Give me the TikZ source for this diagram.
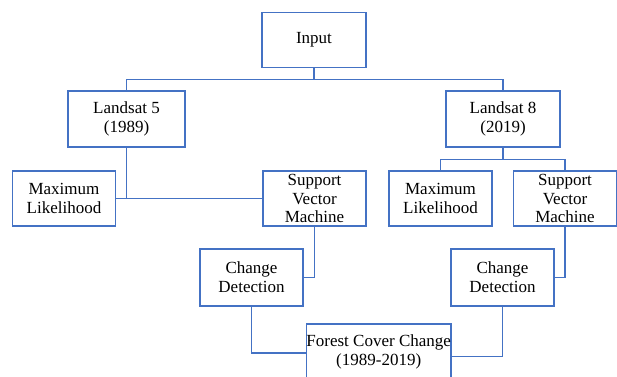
\documentclass[tikz,border=0pt]{standalone}
\usepackage{fontspec}
\setmainfont{Liberation Serif}
\usepackage{xcolor}
\usepackage{tikz}
\usetikzlibrary{positioning}
\definecolor{boxblue}{RGB}{68,114,196}

\begin{document}
\begin{tikzpicture}[
  x=1pt, y=-1pt,
  font=\fontsize{17}{18.8}\selectfont,
  box/.style={draw=boxblue, line width=1.3pt, align=center, inner sep=1pt, minimum width=103pt, minimum height=55pt},
  link/.style={draw=boxblue, line width=1.3pt}
]
\useasboundingbox (0,0) rectangle (617,376);
\node[box, minimum width=104pt] (input) at (314,40) {Input};
\node[box, minimum width=117pt, minimum height=56pt] (lsfive) at (126.5,119) {Landsat 5\\(1989)};
\node[box, minimum width=114pt, minimum height=56pt] (lseight) at (503,119) {Landsat 8\\(2019)};
\node[box] (mlone) at (64,198.5) {Maximum\\Likelihood};
\node[box] (svmone) at (314.5,198.5) {Support\\Vector\\Machine};
\node[box] (mltwo) at (440.5,198.5) {Maximum\\Likelihood};
\node[box] (svmtwo) at (565,198.5) {Support\\Vector\\Machine};
\node[box, minimum height=57pt] (cdone) at (251.5,277.5) {Change\\Detection};
\node[box, minimum height=57pt] (cdtwo) at (502.5,277.5) {Change\\Detection};
\node[box, inner sep=0pt, minimum width=144pt, minimum height=56pt] (forest) at (378.7,352) {Forest Cover Change\\(1989-2019)};
% input split
\draw[link] (input.south) -- ++(0,11) coordinate (split) -| (lsfive.north);
\draw[link] (split) -| (lseight.north);
% left branch
\draw[link] (lsfive.south) -- (lsfive.south |- mlone.east);
\draw[link] (mlone.east) -- (svmone.west);
% right branch
\draw[link] (lseight.south) -- ++(0,12) coordinate (splitr) -| (mltwo.north);
\draw[link] (splitr) -| (svmtwo.north);
% change detection
\draw[link] (svmone.south) |- (cdone.east);
\draw[link] (svmtwo.south) |- (cdtwo.east);
\draw[link] (cdone.south) |- ([yshift=-1pt]forest.west);
\draw[link] (cdtwo.south) |- ([yshift=-4.5pt]forest.east);
\end{tikzpicture}
\end{document}
